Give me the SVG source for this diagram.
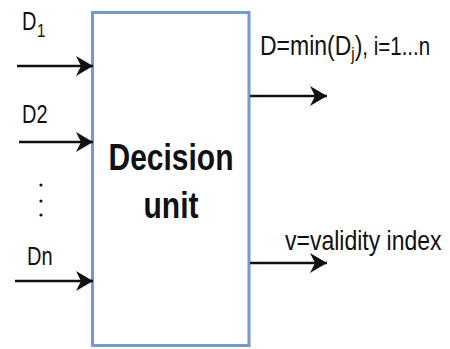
<svg xmlns="http://www.w3.org/2000/svg" width="450" height="349" viewBox="0 0 450 349">
  <style>
    text { font-family: "Liberation Sans", Arial, sans-serif; fill: #111; }
    .lbl { font-size: 20px; }
    .sub { font-size: 15px; }
    .big { font-size: 30px; font-weight: bold; text-anchor: middle; }
    .wire { stroke: #111; stroke-width: 2.5; fill: none; marker-end: url(#head); }
  </style>
  <defs>
    <marker id="head" markerUnits="userSpaceOnUse" markerWidth="18" markerHeight="22" refX="17" refY="10" orient="auto">
      <path d="M0,0 L17,10 L0,20 L5,10 Z" fill="#111"/>
    </marker>
  </defs>
  <rect width="450" height="349" fill="#fff"/>

  <g id="decision-unit">
    <rect x="92.5" y="12.5" width="156.5" height="333" fill="#fff" stroke="#7399CF" stroke-width="3"/>
    <text class="big" transform="translate(171,170) scale(1,1.25)">Decision</text>
    <text class="big" transform="translate(171,218) scale(1,1.25)">unit</text>
  </g>

  <g id="connectors">
    <line class="wire" x1="17" y1="66" x2="93" y2="66"/>
    <line class="wire" x1="19" y1="142" x2="93" y2="142"/>
    <line class="wire" x1="15" y1="281" x2="93" y2="281"/>
    <line class="wire" x1="250" y1="96" x2="327" y2="96"/>
    <line class="wire" x1="250" y1="263" x2="327" y2="263"/>
  </g>

  <g id="input-labels">
    <text class="lbl" transform="translate(22,30) scale(1,1.25)" font-size="18">D</text>
    <text class="sub" transform="translate(37,37) scale(1,1.25)">1</text>
    <text class="lbl" transform="translate(22,123) scale(1,1.25)">D2</text>
    <text class="lbl" transform="translate(27,265) scale(1,1.25)">Dn</text>
    <circle cx="41" cy="185" r="1.6" fill="#111"/>
    <circle cx="41" cy="201" r="1.6" fill="#111"/>
    <circle cx="41" cy="215" r="1.6" fill="#111"/>
  </g>

  <g id="output-labels">
    <text transform="translate(260,55) scale(1,1.22)" font-size="23">D=min(D<tspan font-size="15" dy="4">j</tspan><tspan dy="-4">)</tspan><tspan font-size="20.5">, i=1...n</tspan></text>
    <text transform="translate(285,250) scale(1,1.2)" font-size="23">v=validity index</text>
  </g>
</svg>
